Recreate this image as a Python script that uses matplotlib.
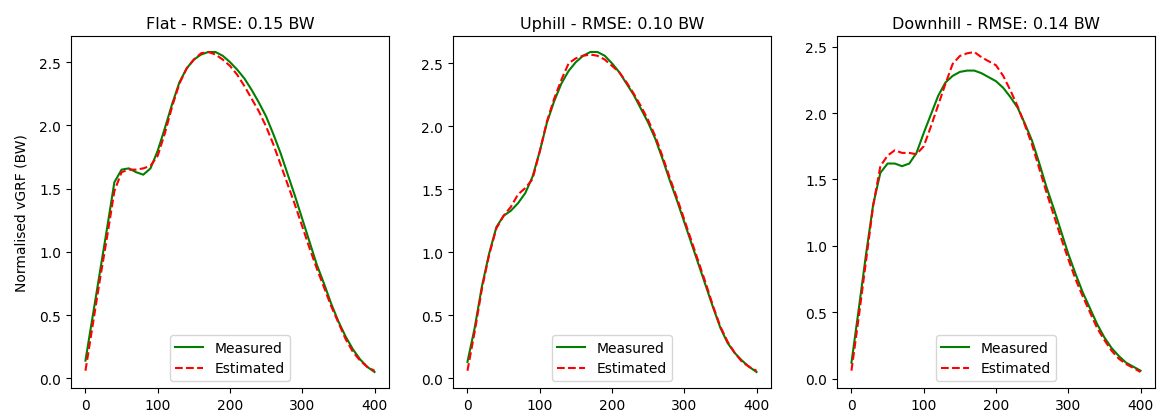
import matplotlib
matplotlib.use("Agg")
import matplotlib.pyplot as plt
import numpy as np

# sample index (stance-phase samples)
x = list(range(0, 401, 10))

titles = ["Flat - RMSE: 0.15 BW", "Uphill - RMSE: 0.10 BW", "Downhill - RMSE: 0.14 BW"]

flat_measured = [0.14, 0.49, 0.84, 1.19, 1.55, 1.65, 1.66, 1.63, 1.61, 1.66, 1.80, 1.98, 2.17, 2.34, 2.45,
                 2.52, 2.56, 2.58, 2.58, 2.55, 2.50, 2.44, 2.37, 2.28, 2.18, 2.07, 1.93, 1.78, 1.61, 1.44,
                 1.26, 1.08, 0.90, 0.75, 0.59, 0.45, 0.33, 0.23, 0.15, 0.09, 0.05]
flat_estimated = [0.06, 0.42, 0.78, 1.12, 1.48, 1.63, 1.65, 1.65, 1.66, 1.68, 1.76, 1.94, 2.15, 2.33, 2.45,
                  2.52, 2.57, 2.58, 2.56, 2.52, 2.47, 2.40, 2.31, 2.21, 2.11, 1.99, 1.85, 1.69, 1.53, 1.37,
                  1.20, 1.03, 0.87, 0.72, 0.57, 0.44, 0.31, 0.21, 0.14, 0.09, 0.06]

uphill_measured = [0.13, 0.40, 0.73, 0.99, 1.20, 1.29, 1.33, 1.39, 1.47, 1.60, 1.80, 2.03, 2.20, 2.34, 2.44,
                   2.51, 2.56, 2.59, 2.59, 2.56, 2.50, 2.43, 2.34, 2.25, 2.14, 2.03, 1.90, 1.74, 1.57, 1.41,
                   1.24, 1.07, 0.90, 0.73, 0.56, 0.40, 0.28, 0.20, 0.14, 0.09, 0.05]
uphill_estimated = [0.06, 0.37, 0.71, 0.98, 1.19, 1.29, 1.36, 1.46, 1.51, 1.58, 1.80, 2.04, 2.22, 2.37, 2.50,
                    2.54, 2.56, 2.57, 2.56, 2.53, 2.48, 2.43, 2.35, 2.26, 2.16, 2.05, 1.92, 1.76, 1.59, 1.43,
                    1.26, 1.09, 0.92, 0.75, 0.57, 0.41, 0.29, 0.20, 0.13, 0.09, 0.06]

downhill_measured = [0.12, 0.52, 0.93, 1.31, 1.55, 1.62, 1.62, 1.60, 1.62, 1.70, 1.85, 1.99, 2.13, 2.23, 2.28,
                     2.31, 2.32, 2.32, 2.30, 2.27, 2.24, 2.19, 2.12, 2.04, 1.92, 1.79, 1.62, 1.44, 1.28, 1.11,
                     0.94, 0.79, 0.65, 0.53, 0.41, 0.31, 0.23, 0.17, 0.12, 0.09, 0.06]
downhill_estimated = [0.06, 0.46, 0.88, 1.30, 1.60, 1.68, 1.72, 1.70, 1.70, 1.69, 1.75, 1.90, 2.06, 2.22, 2.37,
                      2.43, 2.45, 2.46, 2.42, 2.39, 2.36, 2.28, 2.17, 2.05, 1.91, 1.76, 1.58, 1.40, 1.23, 1.06,
                      0.90, 0.75, 0.62, 0.50, 0.38, 0.29, 0.21, 0.15, 0.11, 0.08, 0.05]

measured = [flat_measured, uphill_measured, downhill_measured]
estimated = [flat_estimated, uphill_estimated, downhill_estimated]

fig = plt.figure(figsize=(11.57, 4.14), dpi=100)
lefts = [71, 453, 837]
W, H = 1157, 414
axes = []
for i in range(3):
    ax = fig.add_axes([lefts[i] / W, 1 - 389 / H, 318 / W, (389 - 37) / H])
    axes.append(ax)
    ax.plot(x, measured[i], color="green", linestyle="-", label="Measured", linewidth=1.5)
    ax.plot(x, estimated[i], color="red", linestyle="--", label="Estimated", linewidth=1.5)
    ax.set_title(titles[i], fontsize=11.5)
    ax.set_xticks([0, 100, 200, 300, 400])
    ax.legend(loc="lower center", fontsize=10)
    ax.tick_params(labelsize=10)
axes[0].set_ylabel("Normalised vGRF (BW)", fontsize=10, labelpad=8)

fig.savefig("out.png", dpi=100)
